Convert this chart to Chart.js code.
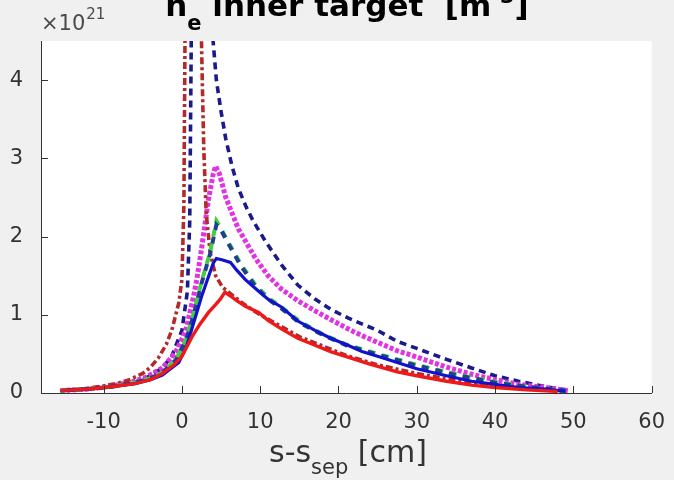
<!DOCTYPE html>
<html>
<head>
<meta charset="utf-8">
<script src="https://cdn.jsdelivr.net/npm/chart.js@4.4.1/dist/chart.umd.min.js"></script>
<style>
  html, body { margin: 0; padding: 0; background: #f0f0f0; }
  canvas { display: block; }
</style>
</head>
<body>
<canvas id="neChart" width="674" height="480"></canvas>
<script>
// axis ticks and limits
const xTicks = [-10, 0, 10, 20, 30, 40, 50, 60];
const yTicks = [0, 1, 2, 3, 4];
const xRange = [-18, 60];
const yRange = [0, 4.5];

// n_e at inner target, units of 1e21 m^-3, points are [s - s_sep (cm), n_e]
const redSolid = [[-15.5,0.03],[-12,0.05],[-9,0.08],[-6,0.12],[-4,0.17],[-2.5,0.25],[-1,0.36],[0,0.47],[1.3,0.72],[2.3,0.88],[3.4,1.03],[4.3,1.13],[4.9,1.2],[5.5,1.29],[6.2,1.24],[7,1.18],[8.1,1.11],[9.8,1.03],[11,0.93],[12.7,0.82],[14.8,0.7],[17,0.61],[19,0.53],[21.2,0.46],[24,0.37],[27.5,0.27],[30,0.22],[33.8,0.15],[37,0.1],[40,0.07],[44,0.04],[48,0.02]];
const darkRedDash = [[-15.5,0.03],[-12,0.06],[-10,0.09],[-8,0.13],[-6.7,0.17],[-5,0.25],[-4,0.33],[-3,0.45],[-2,0.62],[-1.3,0.8],[-0.4,1.15],[0,1.45],[0.25,2.4],[0.4,4.6],[1.5,8],[2.4,5],[2.6,4],[2.8,3.1],[3.1,2.3],[3.6,1.8],[4.3,1.5],[5.2,1.35],[6.2,1.27],[8,1.13],[10,1.0],[12.7,0.85],[15,0.72],[18,0.6],[21,0.48],[25,0.36],[30,0.25],[35,0.16],[40,0.09],[45,0.05],[48.5,0.02]];
const navyDash = [[-15.5,0.03],[-12,0.05],[-9,0.08],[-6,0.14],[-4,0.22],[-2.5,0.32],[-1.3,0.47],[0,0.8],[0.7,1.3],[1.0,2.2],[1.2,4.6],[2.6,8],[3.9,4.6],[4.4,4.0],[5.0,3.6],[5.6,3.25],[6.4,2.9],[7.2,2.62],[8.2,2.38],[9.1,2.2],[10.6,1.95],[12.7,1.64],[14.8,1.38],[17,1.2],[19,1.07],[21.2,0.96],[23.3,0.87],[25,0.8],[27.5,0.66],[30,0.57],[33.8,0.43],[37,0.32],[40,0.22],[43,0.15],[46.5,0.08],[49,0.04]];
const magentaDot = [[-15.5,0.03],[-12,0.05],[-9,0.09],[-6.5,0.14],[-4.6,0.2],[-2.5,0.32],[-0.8,0.52],[0.5,0.8],[1.5,1.24],[1.9,1.45],[2.5,1.84],[3.4,2.48],[4.0,2.8],[4.3,2.9],[4.8,2.8],[5.6,2.5],[7.2,2.1],[9.4,1.72],[11,1.5],[12.7,1.33],[14.8,1.18],[17,1.05],[19,0.94],[21.2,0.82],[23.3,0.72],[27.5,0.54],[30,0.46],[33.8,0.33],[37,0.24],[40,0.17],[43,0.11],[46.5,0.07],[49.3,0.03]];
const greenDash = [[-15.5,0.03],[-12,0.05],[-9,0.08],[-6,0.13],[-4,0.19],[-2.5,0.26],[-0.8,0.42],[0.5,0.68],[1.5,1.02],[2.5,1.42],[3.6,1.8],[4.4,2.2],[4.9,2.12],[5.7,1.97],[7.5,1.65],[9.4,1.38],[11,1.22],[12.7,1.1],[15,0.92],[18,0.75],[21,0.62],[25,0.5],[30,0.36],[35,0.24],[40,0.14],[45,0.07],[49,0.03]];
const tealDash = [[-15.5,0.03],[-12,0.05],[-9,0.08],[-6,0.13],[-4,0.19],[-2.5,0.26],[-0.8,0.42],[0.5,0.67],[1.5,1.0],[2.5,1.4],[3.6,1.78],[4.4,2.15],[4.9,2.1],[5.7,1.95],[7.5,1.63],[9.4,1.36],[11,1.2],[12.7,1.08],[15,0.9],[18,0.74],[21,0.61],[25,0.49],[30,0.35],[35,0.23],[40,0.13],[45,0.07],[49,0.03]];
const blueSolid = [[-15.5,0.03],[-12,0.05],[-9,0.08],[-6,0.12],[-4,0.17],[-2.5,0.23],[-0.4,0.39],[0.6,0.6],[1.9,1.03],[2.5,1.23],[3.4,1.49],[4.0,1.66],[4.4,1.72],[5.2,1.7],[6.2,1.67],[7,1.57],[8.1,1.45],[9.8,1.3],[11,1.2],[12.7,1.1],[14.8,0.92],[17,0.8],[19,0.7],[21.2,0.61],[23,0.53],[25.3,0.46],[27.5,0.39],[30,0.31],[33.8,0.22],[37,0.15],[40,0.11],[43,0.07],[46.5,0.05],[49,0.02]];

const FONT = "'DejaVu Sans', sans-serif";
const INK = '#333333';

function toPoints(arr) {
    return arr.map(p => ({ x: p[0], y: p[1] }));
}

function series(arr, color, width, dash, offset) {
    return {
        data: toPoints(arr),
        borderColor: color,
        borderWidth: width,
        borderDash: dash || [],
        borderDashOffset: offset || 0,
        pointRadius: 0,
        tension: 0,
        fill: false
    };
}

// draws a run of [text, size, bold, dy] pieces centred on cx
function drawRuns(ctx, runs, cx, base) {
    let total = 0;
    runs.forEach(r => {
        ctx.font = (r[2] ? 'bold ' : '') + r[1] + 'px ' + FONT;
        total += ctx.measureText(r[0]).width;
    });
    let x = cx - total / 2;
    runs.forEach(r => {
        ctx.font = (r[2] ? 'bold ' : '') + r[1] + 'px ' + FONT;
        ctx.fillText(r[0], x, base + r[3]);
        x += ctx.measureText(r[0]).width;
    });
}

// grey figure, white axes box, inward ticks, y labels, title and axis label
const decorations = {
    id: 'decorations',
    beforeDraw(chart) {
        const { ctx, chartArea: a } = chart;
        ctx.save();
        ctx.fillStyle = '#f0f0f0';
        ctx.fillRect(0, 0, chart.width, chart.height);
        ctx.fillStyle = '#ffffff';
        ctx.fillRect(a.left, a.top, a.right - a.left, a.bottom - a.top);
        ctx.restore();
    },
    afterDraw(chart) {
        const { ctx, chartArea: a, scales } = chart;
        ctx.save();
        ctx.strokeStyle = INK;
        ctx.lineWidth = 1;
        xTicks.forEach(v => {
            const px = Math.round(scales.x.getPixelForValue(v)) + 0.5;
            ctx.beginPath();
            ctx.moveTo(px, a.bottom);
            ctx.lineTo(px, a.bottom - 7);
            ctx.stroke();
        });
        ctx.fillStyle = INK;
        ctx.font = '21px ' + FONT;
        ctx.textAlign = 'right';
        ctx.textBaseline = 'middle';
        yTicks.forEach(v => {
            const py = scales.y.getPixelForValue(v);
            const yy = Math.round(py) + 0.5;
            ctx.beginPath();
            ctx.moveTo(a.left, yy);
            ctx.lineTo(a.left + 7, yy);
            ctx.stroke();
            ctx.fillText(String(v), 23, py);
        });

        // exponent above the y axis
        ctx.textBaseline = 'alphabetic';
        ctx.textAlign = 'left';
        ctx.fillStyle = '#4a4a4a';
        ctx.font = '21px ' + FONT;
        ctx.fillText('\u00d710', 41, 30);
        const w10 = ctx.measureText('\u00d710').width;
        ctx.font = '15px ' + FONT;
        ctx.fillText('21', 41 + w10 + 1, 19);

        // title, its top runs off the canvas
        ctx.fillStyle = '#000000';
        drawRuns(ctx, [
            ['n', 31, true, 0],
            ['e', 21, true, 14],
            [' inner target  [m', 31, true, 0],
            ['-3', 21, true, -13],
            [']', 31, true, 0]
        ], 347, 16);

        // x axis label with subscript
        ctx.fillStyle = INK;
        drawRuns(ctx, [
            ['s-s', 30, false, 0],
            ['sep', 21, false, 12],
            [' [cm]', 30, false, 0]
        ], 348, 462);
        ctx.restore();
    }
};

const ctx = document.getElementById('neChart').getContext('2d');
new Chart(ctx, {
    type: 'line',
    data: {
        datasets: [
            series(redSolid, '#ee1a1a', 3.4),
            series(blueSolid, '#1212cc', 3.2),
            series(tealDash, '#1f3f8f', 4, [7, 7], 7),
            series(greenDash, '#3fd03f', 4, [7, 7], 0),
            series(darkRedDash, '#b42a2a', 3.6, [7, 3, 3, 3]),
            series(magentaDot, '#e232e2', 5, [4, 2]),
            series(navyDash, '#1a1a8a', 3.6, [7, 5])
        ]
    },
    options: {
        responsive: false,
        animation: false,
        events: [],
        layout: { padding: { top: 41, right: 18, left: 0, bottom: 0 } },
        plugins: {
            legend: { display: false },
            tooltip: { enabled: false }
        },
        scales: {
            x: {
                type: 'linear',
                min: xRange[0],
                max: xRange[1],
                afterBuildTicks: s => { s.ticks = xTicks.map(v => ({ value: v })); },
                afterFit: s => { s.height = 87; },
                grid: { display: false },
                border: { display: true, color: INK, width: 1 },
                ticks: { color: INK, font: { family: FONT, size: 21 }, padding: 9, maxRotation: 0 }
            },
            y: {
                type: 'linear',
                min: yRange[0],
                max: yRange[1],
                afterBuildTicks: s => { s.ticks = yTicks.map(v => ({ value: v })); },
                afterFit: s => { s.width = 41; },
                grid: { display: false },
                border: { display: true, color: INK, width: 1 },
                ticks: { display: false }
            }
        }
    },
    plugins: [decorations]
});
</script>
</body>
</html>
